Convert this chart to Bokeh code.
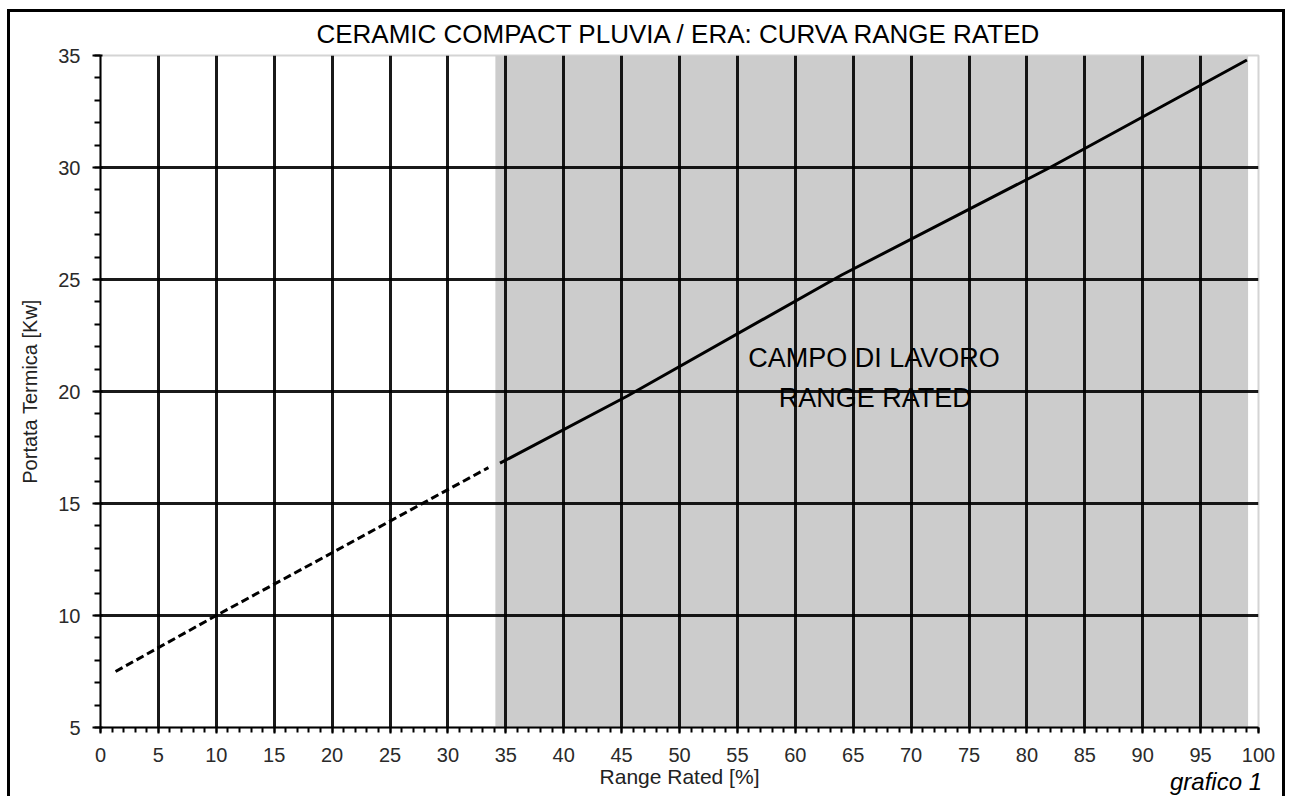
from bokeh.plotting import figure
from bokeh.models import SingleIntervalTicker, FixedTicker, Label, Div
from bokeh.embed import file_html
from bokeh.resources import INLINE

# ---- data ----
range_rated_dashed = [1.3, 10.0, 20.0, 28.5, 33.5]
portata_dashed = [7.5, 10.0, 12.8, 15.2, 16.6]
range_rated_solid = [34.5, 45.5, 64.0, 82.0, 99.0]
portata_solid = [16.8, 19.8, 25.2, 30.0, 34.8]
campo_lavoro_x = [34.1, 99.1]
x_grid_ticks = [5, 10, 15, 20, 25, 30, 35, 40, 45, 50, 55, 60, 65, 70, 75, 80, 85, 90, 95]
y_grid_ticks = [10, 15, 20, 25, 30]
x_limits = (0, 100)
y_limits = (5, 35)

FONT = "Liberation Sans"

p = figure(width=1278, height=787, x_range=x_limits, y_range=y_limits,
           output_backend="svg", toolbar_location=None,
           min_border_left=93, min_border_right=27, min_border_top=46, min_border_bottom=69,
           title="CERAMIC COMPACT PLUVIA / ERA: CURVA RANGE RATED")

p.border_fill_color = None
p.background_fill_color = "white"
p.styles = {"margin-left": "7px", "margin-top": "9px",
            "box-shadow": "inset 3px 3px 0 0 #000000, inset -3px 0 0 0 #000000"}

p.outline_line_color = "#d4d4d4"
p.outline_line_width = 2

p.title.align = "center"
p.title.text_font = FONT
p.title.text_font_size = "26px"
p.title.text_font_style = "normal"
p.title.text_color = "black"
p.title.standoff = 13

# shaded working range
p.quad(left=[campo_lavoro_x[0]], right=[campo_lavoro_x[1]],
       bottom=[y_limits[0]], top=[y_limits[1]],
       fill_color="#cccccc", line_color=None, level="image")

# grid
p.xgrid.ticker = FixedTicker(ticks=x_grid_ticks)
p.ygrid.ticker = FixedTicker(ticks=y_grid_ticks)
for g in (p.xgrid, p.ygrid):
    g.grid_line_color = "black"
    g.grid_line_width = 3
    g.grid_line_alpha = 0.9

# axes
for ax in (p.xaxis[0], p.yaxis[0]):
    ax.ticker = SingleIntervalTicker(interval=5, num_minor_ticks=5)
    ax.axis_line_color = "black"
    ax.axis_line_width = 2
    ax.major_tick_line_color = "black"
    ax.major_tick_line_width = 2
    ax.minor_tick_line_color = "black"
    ax.minor_tick_line_width = 2
    ax.major_label_text_font = FONT
    ax.major_label_text_font_size = "20px"
    ax.major_label_text_color = "#2a2a2a"

p.xaxis.major_tick_out = 6
p.xaxis.major_tick_in = 0
p.xaxis.minor_tick_out = 5
p.xaxis.minor_tick_in = 0
p.xaxis.major_label_standoff = 14
p.xaxis.axis_label = "Range Rated [%]"
p.xaxis.axis_label_text_font = FONT
p.xaxis.axis_label_text_font_size = "21px"
p.xaxis.axis_label_text_font_style = "normal"
p.xaxis.axis_label_text_color = "#222222"
p.xaxis.axis_label_standoff = 0

p.yaxis.major_tick_out = 8
p.yaxis.major_tick_in = 2
p.yaxis.minor_tick_out = 6
p.yaxis.minor_tick_in = 0
p.yaxis.major_label_standoff = 12
p.yaxis.axis_label = "Portata Termica [Kw]"
p.yaxis.axis_label_text_font = FONT
p.yaxis.axis_label_text_font_size = "20px"
p.yaxis.axis_label_text_font_style = "normal"
p.yaxis.axis_label_text_color = "#222222"
p.yaxis.axis_label_standoff = 14

# curve
p.line(range_rated_dashed, portata_dashed, line_color="black", line_width=3, line_dash="8 4")
p.line(range_rated_solid, portata_solid, line_color="black", line_width=3)

# texts inside the plot area
p.add_layout(Label(x=66.8, y=21.5, text="CAMPO DI LAVORO", text_align="center",
                   text_baseline="middle", text_font=FONT, text_font_size="27px",
                   text_color="black"))
p.add_layout(Label(x=66.9, y=19.7, text="RANGE RATED", text_align="center",
                   text_baseline="middle", text_font=FONT, text_font_size="27px",
                   text_color="black"))

# "grafico 1" caption under the axis, at the right (floating text over the page)
caption = Div(text="grafico 1",
              styles={"position": "absolute", "left": "1170px", "top": "768px",
                      "font-family": FONT, "font-style": "italic", "font-size": "24px",
                      "color": "black", "white-space": "nowrap", "line-height": "1.15",
                      "margin": "0", "padding": "0"})

open("out.html", "w").write(file_html([p, caption], INLINE))
